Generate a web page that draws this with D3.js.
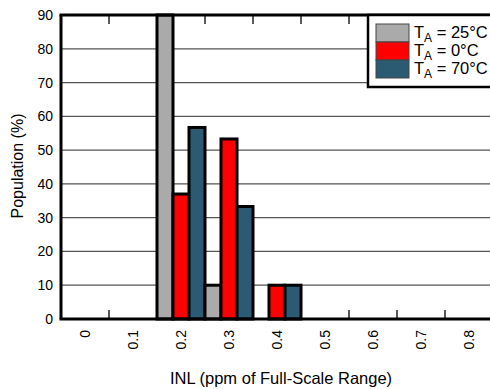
<!DOCTYPE html>
<html>
<head>
<meta charset="utf-8">
<script src="https://cdn.jsdelivr.net/npm/d3@7"></script>
<style>
  body { margin: 0; background: #fff; }
  text { font-family: "Liberation Sans", Arial, sans-serif; fill: #000; }
</style>
</head>
<body>
<svg id="chart" width="490" height="389"></svg>
<script>
// data
var categories = ["0", "0.1", "0.2", "0.3", "0.4", "0.5", "0.6", "0.7", "0.8"]
var seriesNames = ["25", "0", "70"]
var t25 = [0, 0, 90, 10, 0, 0, 0, 0, 0]
var t0  = [0, 0, 37, 53.3, 10, 0, 0, 0, 0]
var t70 = [0, 0, 56.7, 33.3, 10, 0, 0, 0, 0]
var yTicks = [0, 10, 20, 30, 40, 50, 60, 70, 80, 90]
var colors = ["#aaaaaa", "#ff0000", "#2b5b73"]

var svg = d3.select("#chart")
// plot box (note: "top" is reserved on window, so pX names)
var pLeft = 61, pRight = 493, pTop = 15, pBottom = 319

var x = d3.scaleBand().domain(categories).range([pLeft, pRight]).padding(0)
var xs = d3.scaleBand().domain(seriesNames).range([0, x.bandwidth()]).padding(0)
var y = d3.scaleLinear().domain([0, 90]).range([pBottom, pTop])

// grid
svg.append("g")
    .selectAll("line")
    .data(yTicks.slice(1, -1))
    .enter()
    .append("line")
    .attr("x1", pLeft).attr("x2", pRight)
    .attr("y1", d => y(d)).attr("y2", d => y(d))
    .attr("stroke", "#555")
    .attr("stroke-width", 1.3)

// bars
var table = categories.map((c, i) => ({cat: c, vals: [t25[i], t0[i], t70[i]]}))
svg.append("g")
    .selectAll("g")
    .data(table)
    .enter()
    .append("g")
    .attr("transform", d => "translate(" + x(d.cat) + ",0)")
    .selectAll("rect")
    .data(d => d.vals.map((v, j) => ({s: seriesNames[j], v: v, j: j})))
    .enter()
    .append("rect")
    .attr("x", d => xs(d.s))
    .attr("width", xs.bandwidth())
    .attr("y", d => y(d.v))
    .attr("height", d => pBottom - y(d.v))
    .attr("fill", d => colors[d.j])
    .attr("stroke", d => d.v > 0 ? "#000" : "#bbb")
    .attr("stroke-width", d => d.v > 0 ? 3 : 1)

// y axis
var yAxis = d3.axisLeft(y).tickValues(yTicks).tickSize(0).tickPadding(8)
var gy = svg.append("g")
    .attr("transform", "translate(" + pLeft + ",0)")
    .call(yAxis)
gy.select(".domain").remove()
gy.selectAll("text")
    .style("font-size", "14px")
    .style("font-family", "Liberation Sans, Arial, sans-serif")

// x axis labels (rotated)
var xAxis = d3.axisBottom(x).tickSize(0).tickPadding(0)
var gx = svg.append("g")
    .attr("transform", "translate(0," + pBottom + ")")
    .call(xAxis)
gx.select(".domain").remove()
gx.selectAll("text")
    .attr("transform", "rotate(-90)")
    .attr("x", -11)
    .attr("y", 0)
    .attr("dy", "0.35em")
    .attr("text-anchor", "end")
    .style("font-size", "14px")
    .style("font-family", "Liberation Sans, Arial, sans-serif")

// frame
svg.append("line").attr("x1", pLeft - 1.5).attr("x2", pRight).attr("y1", pTop).attr("y2", pTop)
    .attr("stroke", "#000").attr("stroke-width", 3)
svg.append("line").attr("x1", pLeft - 1.5).attr("x2", pRight).attr("y1", pBottom).attr("y2", pBottom)
    .attr("stroke", "#000").attr("stroke-width", 3)
svg.append("line").attr("x1", pLeft).attr("x2", pLeft).attr("y1", pTop).attr("y2", pBottom)
    .attr("stroke", "#000").attr("stroke-width", 3)

// category boundary ticks top and bottom
var bounds = categories.slice(1).map(c => x(c))
svg.append("g").selectAll("line").data(bounds).enter().append("line")
    .attr("x1", d => d).attr("x2", d => d)
    .attr("y1", pTop).attr("y2", pTop + 9)
    .attr("stroke", "#000").attr("stroke-width", 1.3)
svg.append("g").selectAll("line").data(bounds).enter().append("line")
    .attr("x1", d => d).attr("x2", d => d)
    .attr("y1", pBottom).attr("y2", pBottom - 9)
    .attr("stroke", "#000").attr("stroke-width", 1.3)

// axis titles
svg.append("text")
    .attr("x", 281).attr("y", 384)
    .attr("text-anchor", "middle")
    .style("font-size", "16.5px")
    .text("INL (ppm of Full-Scale Range)")
svg.append("text")
    .attr("transform", "translate(23,166) rotate(-90)")
    .attr("text-anchor", "middle")
    .style("font-size", "16px")
    .text("Population (%)")

// legend
var lg = svg.append("g")
lg.append("rect")
    .attr("x", 368).attr("y", pTop).attr("width", 130).attr("height", 72)
    .attr("fill", "#fff").attr("stroke", "#000").attr("stroke-width", 2.5)
seriesNames.forEach((s, i) => {
    lg.append("rect")
        .attr("x", 376).attr("y", 24 + i * 18)
        .attr("width", 33).attr("height", 18)
        .attr("fill", colors[i]).attr("stroke", "#444").attr("stroke-width", 1)
    var t = lg.append("text")
        .attr("x", 414).attr("y", 38 + i * 18)
        .style("font-size", "16.5px")
    t.append("tspan").text("T")
    t.append("tspan").attr("dy", 4).style("font-size", "12px").text("A")
    t.append("tspan").attr("dy", -4).text(" = " + s + "°C")
})
</script>
</body>
</html>
